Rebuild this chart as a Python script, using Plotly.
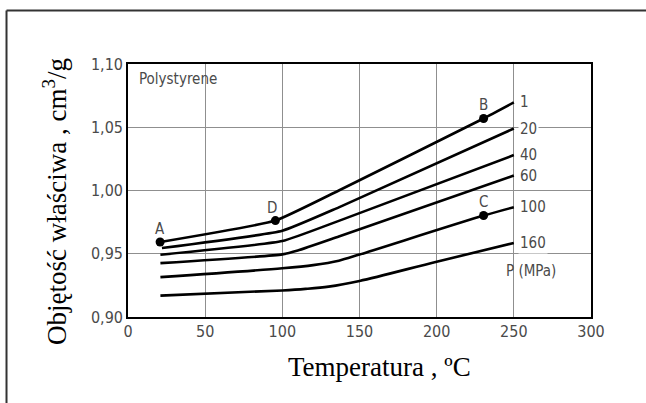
import plotly.graph_objects as go

# Specific volume of polystyrene vs temperature at several pressures
temp_1 = [21, 95.5, 136.6, 230.4, 250]
vol_1 = [0.9593, 0.9762, 1.0000, 1.0569, 1.0696]

temp_20 = [22, 100, 136.6, 250]
vol_20 = [0.9545, 0.9682, 0.9867, 1.0490]

temp_40 = [21, 100, 136.6, 250]
vol_40 = [0.9492, 0.9600, 0.9760, 1.0280]

temp_60 = [21, 100, 110, 136.6, 250]
vol_60 = [0.9426, 0.9495, 0.9525, 0.9636, 1.0118]

temp_100 = [21, 100, 120, 136.6, 150, 230.4, 250]
vol_100 = [0.9315, 0.9385, 0.9410, 0.9445, 0.9494, 0.9802, 0.9868]

temp_160 = [21, 100, 115, 130, 150, 200, 250]
vol_160 = [0.9169, 0.9210, 0.9222, 0.9240, 0.9285, 0.9437, 0.9585]

pressures = ["1", "20", "40", "60", "100", "160"]
series_t = [temp_1, temp_20, temp_40, temp_60, temp_100, temp_160]
series_v = [vol_1, vol_20, vol_40, vol_60, vol_100, vol_160]
smooth = [0.4, 0.4, 0.4, 0.5, 0.8, 0.9]

# Marked states on the diagram
point_names = ["A", "D", "B", "C"]
point_t = [20.8, 95.5, 230.4, 230.4]
point_v = [0.9593, 0.9762, 1.0569, 0.9802]

x_ticks = [0, 50, 100, 150, 200, 250, 300]
y_ticks = [0.90, 0.95, 1.00, 1.05, 1.10]
y_tick_text = ["0,90", "0,95", "1,00", "1,05", "1,10"]

NARROW = "DejaVu Sans Condensed, Liberation Sans Narrow, Arial Narrow, Roboto Condensed, Roboto, sans-serif"
SERIF = "Liberation Serif, Times New Roman, serif"
GRAY_TXT = "#4a4a4a"

fig = go.Figure()

for t, v, s in zip(series_t, series_v, smooth):
    fig.add_trace(go.Scatter(
        x=t, y=v, mode="lines",
        line=dict(color="black", width=2.6, shape="spline", smoothing=s),
        showlegend=False, hoverinfo="skip",
    ))

fig.add_trace(go.Scatter(
    x=point_t, y=point_v, mode="markers",
    marker=dict(color="black", size=9),
    showlegend=False, hoverinfo="skip",
))

annotations = []
# point letters
shifts = {"A": (0, 13), "D": (-3, 13), "B": (0, 14), "C": (0, 14)}
for name, t, v in zip(point_names, point_t, point_v):
    dx, dy = shifts[name]
    annotations.append(dict(
        x=t, y=v, text=name, showarrow=False, xshift=dx, yshift=dy,
        xanchor="center", yanchor="middle",
        font=dict(family=NARROW, size=15, color=GRAY_TXT),
    ))

# pressure labels at curve ends
for p, t, v in zip(pressures, series_t, series_v):
    annotations.append(dict(
        x=t[-1], y=v[-1], text=p, showarrow=False, xanchor="left",
        yanchor="middle", xshift=4, bgcolor="white", borderpad=1,
        font=dict(family=NARROW, size=15, color=GRAY_TXT),
    ))

annotations.append(dict(
    x=261, y=0.9361, text="P (MPa)", showarrow=False,
    xanchor="center", yanchor="middle",
    font=dict(family=NARROW, size=15, color=GRAY_TXT),
))
annotations.append(dict(
    x=6, y=1.088, text="Polystyrene", showarrow=False,
    xanchor="left", yanchor="middle",
    font=dict(family=NARROW, size=15, color=GRAY_TXT),
))

# axis titles
annotations.append(dict(
    xref="paper", yref="paper", x=0.544, y=-0.198,
    xanchor="center", yanchor="middle",
    text="Temperatura , ºC", showarrow=False,
    font=dict(family=SERIF, size=27, color="black"),
))
annotations.append(dict(
    xref="paper", yref="paper", x=-0.1577, y=0.4585, textangle=-90,
    xanchor="center", yanchor="middle",
    text="Objętość właściwa , cm<sup>3</sup>/g", showarrow=False,
    font=dict(family=SERIF, size=27, color="black"),
))

shapes = [
    # outer frame (left and top edges)
    dict(type="line", xref="paper", yref="paper",
         x0=-0.2624, x1=-0.2624, y0=1.2115, y1=-0.40,
         line=dict(color="#333333", width=2)),
    dict(type="line", xref="paper", yref="paper",
         x0=-0.2624, x1=1.20, y0=1.2115, y1=1.2115,
         line=dict(color="#333333", width=2)),
]

fig.update_layout(
    width=646, height=403,
    margin=dict(l=128, r=55, t=64, b=86),
    paper_bgcolor="white", plot_bgcolor="white",
    annotations=annotations, shapes=shapes,
    xaxis=dict(
        range=[0, 300], tickvals=x_ticks, showgrid=True,
        gridcolor="#8f8f8f", gridwidth=1.3, zeroline=False,
        showline=True, linecolor="black", linewidth=1.6, mirror=True,
        ticks="", ticklabelstandoff=-1,
        tickfont=dict(family=NARROW, size=16, color=GRAY_TXT),
    ),
    yaxis=dict(
        range=[0.90, 1.10], tickvals=y_ticks, ticktext=y_tick_text,
        showgrid=True, gridcolor="#8f8f8f", gridwidth=1.3, zeroline=False,
        showline=True, linecolor="black", linewidth=1.6, mirror=True,
        ticks="", ticklabelstandoff=0,
        tickfont=dict(family=NARROW, size=16, color=GRAY_TXT),
    ),
)

fig.write_html("out.html")
